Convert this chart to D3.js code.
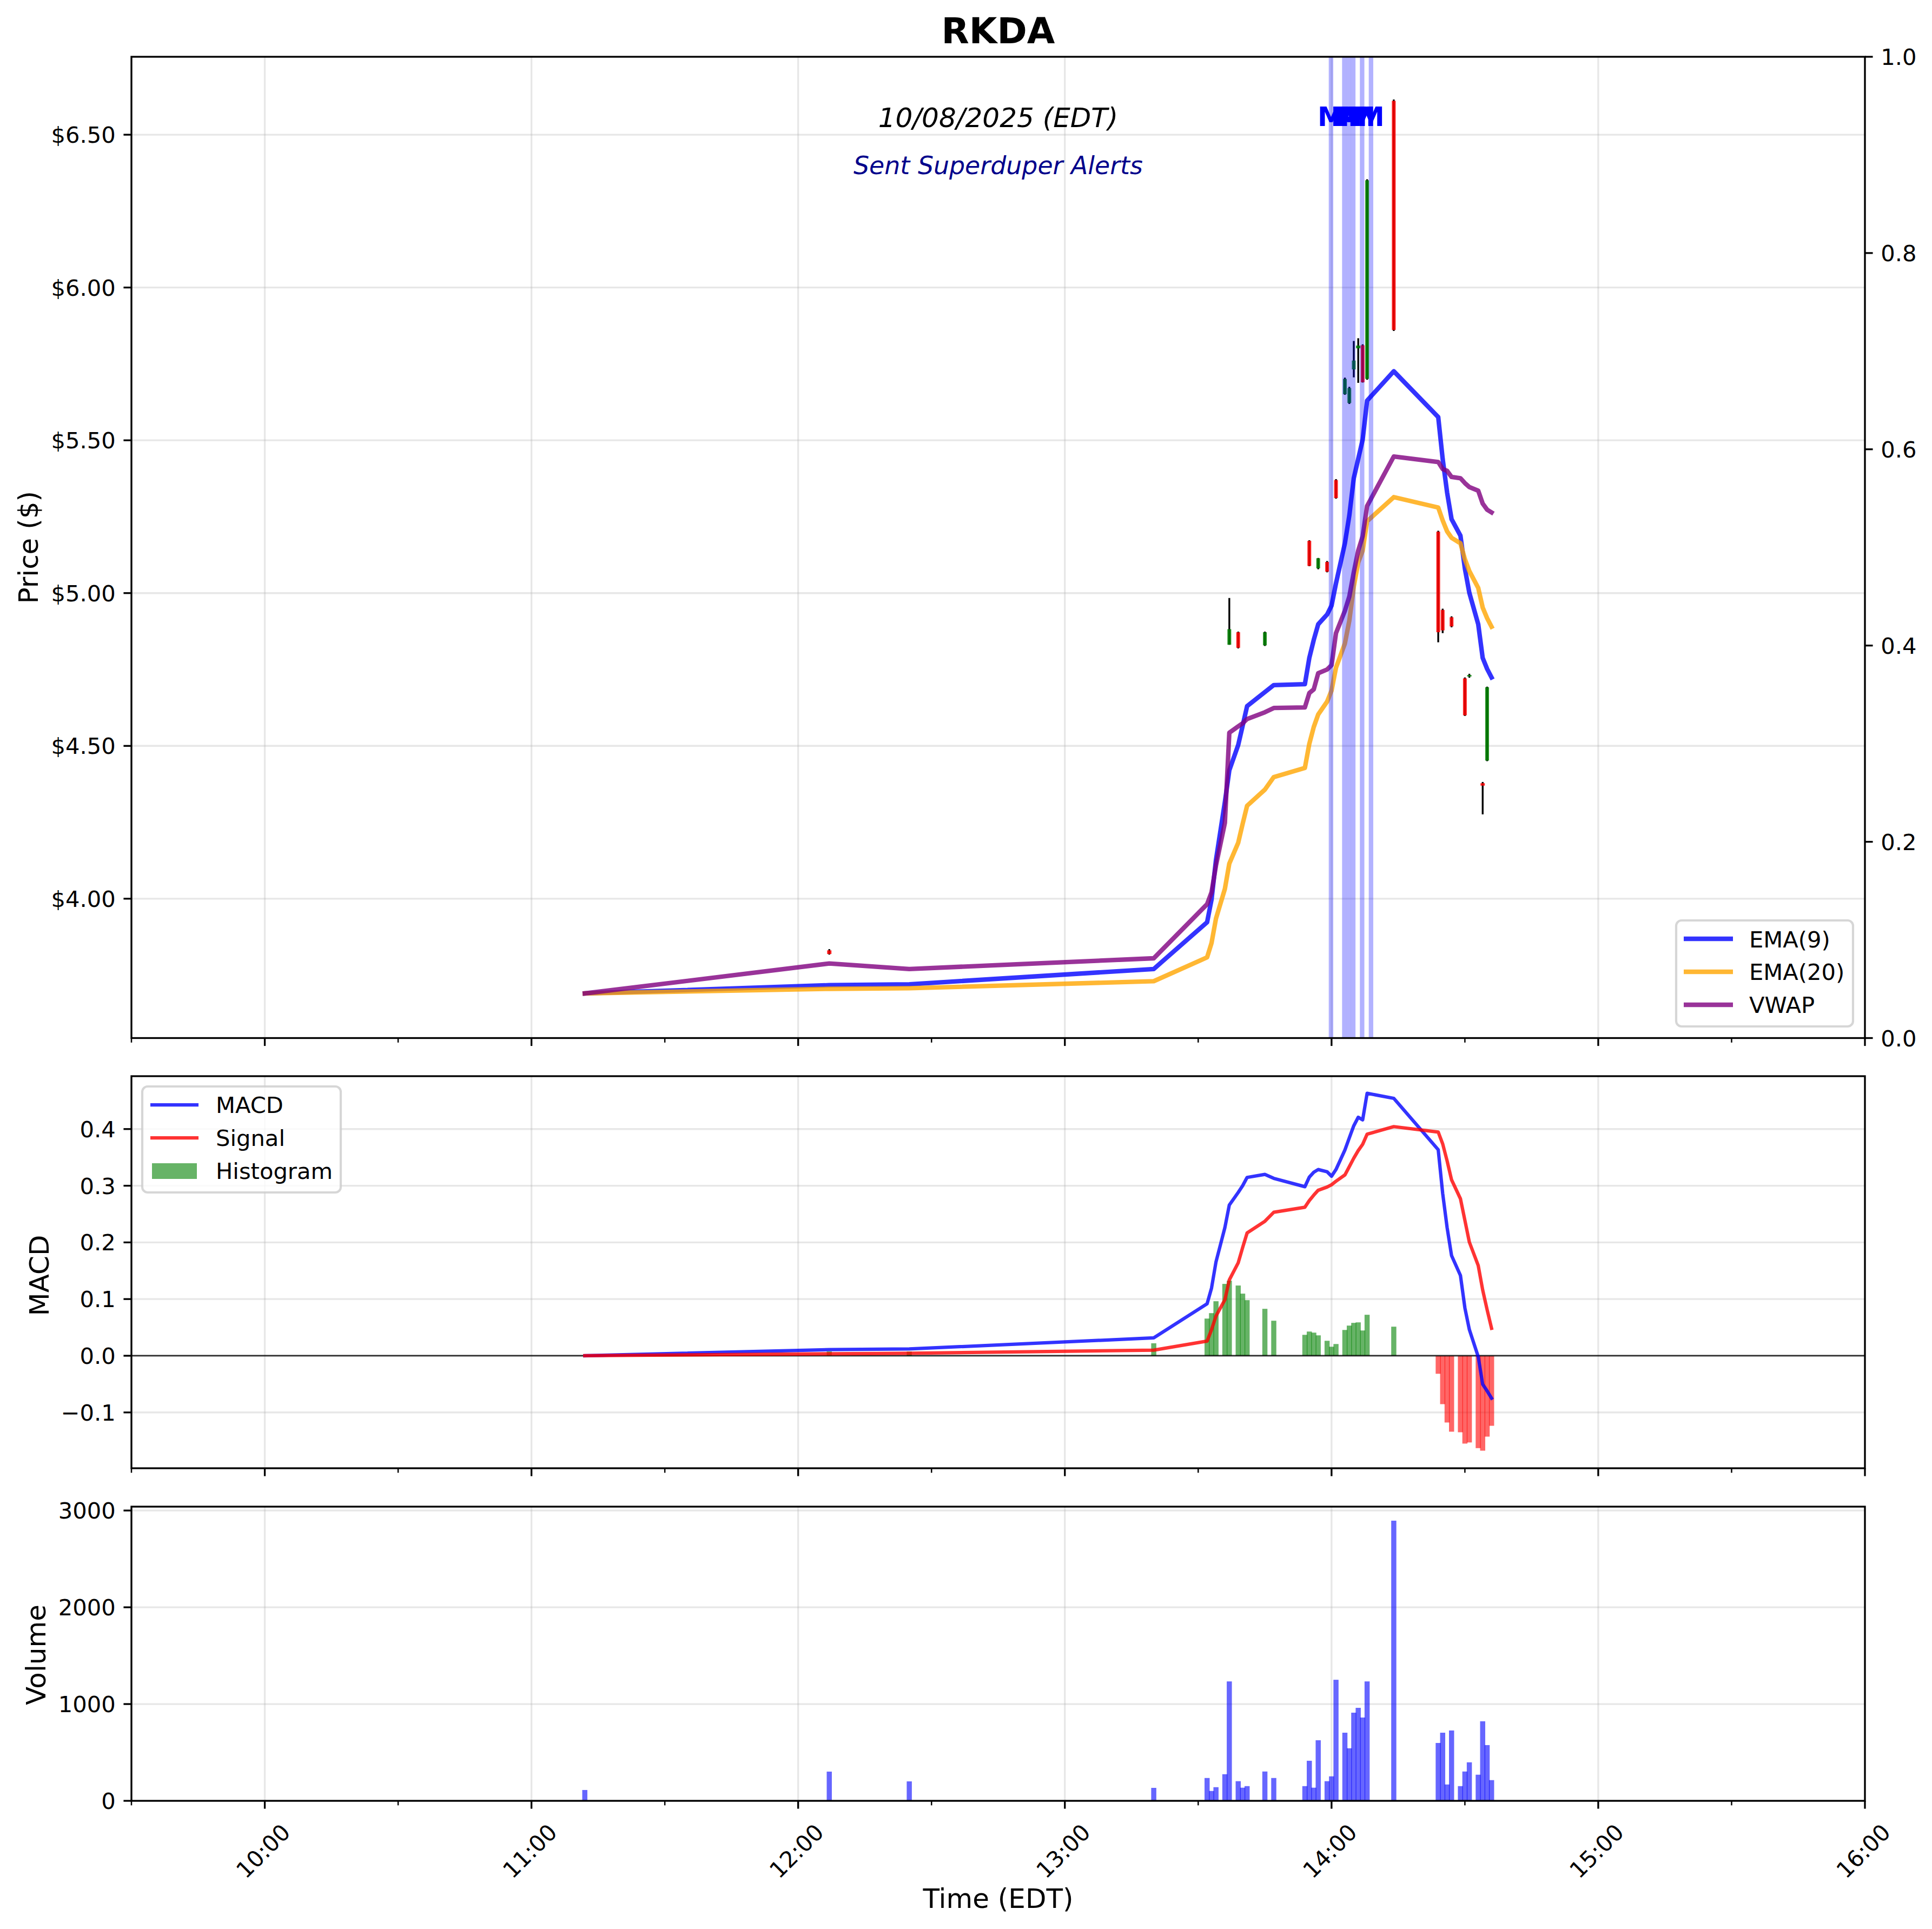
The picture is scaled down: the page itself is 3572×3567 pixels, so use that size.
<!DOCTYPE html>
<html>
<head>
<meta charset="utf-8">
<title>RKDA</title>
<script src="https://cdn.jsdelivr.net/npm/d3@7"></script>
<style>
  html, body { margin: 0; padding: 0; background: #fff; }
  text { font-family: "DejaVu Sans"; fill: #000; }
</style>
</head>
<body>
<div id="chart"></div>
<script>
// minutes with a trade
var times = ["11:12","12:07","12:25","13:20","13:32","13:33","13:34","13:36","13:37","13:39","13:40","13:41","13:45","13:47",
  "13:54","13:55","13:56","13:57","13:59","14:00","14:01","14:03","14:04","14:05","14:06","14:07","14:08","14:14",
  "14:24","14:25","14:26","14:27","14:29","14:30","14:31","14:33","14:34","14:35","14:36"];

var ema9 = [3.690,3.717,3.720,3.770,3.923,3.997,4.127,4.316,4.420,4.503,4.566,4.630,4.676,4.699,
  4.702,4.788,4.847,4.898,4.930,4.959,5.032,5.163,5.254,5.376,5.439,5.502,5.630,5.726,
  5.576,5.439,5.329,5.242,5.188,5.080,5.001,4.898,4.788,4.752,4.724];
var ema20 = [3.690,3.705,3.707,3.730,3.808,3.855,3.935,4.032,4.115,4.183,4.245,4.304,4.357,4.398,
  4.428,4.507,4.562,4.603,4.645,4.681,4.756,4.835,4.910,5.021,5.100,5.139,5.235,5.314,
  5.280,5.238,5.202,5.181,5.163,5.111,5.072,5.017,4.953,4.918,4.890];
var vwap = [3.690,3.788,3.770,3.805,3.982,4.021,4.109,4.248,4.543,4.564,4.574,4.588,4.610,4.624,
  4.626,4.673,4.685,4.738,4.750,4.764,4.869,4.942,4.989,5.068,5.139,5.186,5.285,5.447,
  5.429,5.406,5.400,5.380,5.376,5.360,5.347,5.335,5.293,5.273,5.264];

var macd = [0.000,0.0108,0.012,0.0315,0.0917,0.1194,0.1656,0.226,0.266,0.2882,0.300,0.3146,0.320,0.313,
  0.2983,0.3152,0.3238,0.3286,0.3247,0.3168,0.3286,0.3629,0.3845,0.4058,0.4208,0.4163,0.4631,0.4542,
  0.3635,0.2866,0.2261,0.1767,0.1417,0.0844,0.0462,-0.0016,-0.0503,-0.0621,-0.0748];
var signal = [0.000,0.0035,0.0045,0.0099,0.0258,0.046,0.070,0.0987,0.1338,0.164,0.191,0.2166,0.2373,0.2532,
  0.2621,0.2739,0.2834,0.292,0.2977,0.3018,0.3079,0.319,0.3337,0.3486,0.362,0.3731,0.3909,0.4043,
  0.3947,0.374,0.3438,0.3104,0.277,0.2388,0.2006,0.1592,0.1162,0.0812,0.0484];
var histogram = [0.000,0.0076,0.0076,0.022,0.0656,0.0752,0.0962,0.1268,0.1325,0.1239,0.1096,0.0981,0.0828,0.0618,
  0.0369,0.0427,0.0408,0.036,0.0264,0.0159,0.0207,0.0455,0.0532,0.058,0.0589,0.0446,0.0723,0.0513,
  -0.0318,-0.0854,-0.1178,-0.134,-0.135,-0.155,-0.153,-0.163,-0.1675,-0.1427,-0.1236];

var volume = [112,302,201,134,236,102,141,275,1234,203,136,152,303,236,
  152,414,136,626,203,253,1251,704,543,911,961,861,1234,2895,
  598,704,169,727,152,303,398,270,822,576,214];

// candles that show on the chart
var candleTimes = ["12:07","13:37","13:39","13:45","13:55","13:57","13:59","14:01","14:03","14:04","14:05","14:06","14:07","14:08",
  "14:14","14:24","14:25","14:27","14:30","14:31","14:34","14:35"];
var candleHigh = [3.835,4.984,4.874,4.874,5.173,5.115,5.105,5.373,5.705,5.675,5.825,5.834,5.814,6.354,
  6.615,5.204,4.949,4.924,4.724,4.736,4.382,4.694];
var candleLow = [3.817,4.831,4.819,4.827,5.088,5.078,5.068,5.309,5.649,5.619,5.706,5.688,5.689,5.698,
  5.858,4.839,4.869,4.888,4.598,4.723,4.276,4.450];
var candleOpen = [3.831,4.831,4.872,4.829,5.171,5.081,5.102,5.370,5.651,5.622,5.732,5.801,5.811,5.701,
  6.611,5.201,4.945,4.921,4.721,4.727,4.378,4.452];
var candleClose = [3.819,4.882,4.821,4.872,5.089,5.114,5.070,5.311,5.701,5.671,5.761,5.810,5.690,6.351,
  5.861,4.872,4.878,4.891,4.600,4.732,4.370,4.692];

var alertTimes = ["14:00","14:03","14:04","14:05","14:07","14:09"];

var hourTicks = ["10:00","11:00","12:00","13:00","14:00","15:00","16:00"];
var halfHourTicks = ["09:30","10:30","11:30","12:30","13:30","14:30","15:30"];
var priceTicks = [4, 4.5, 5, 5.5, 6, 6.5];
var rightTicks = [0, 0.2, 0.4, 0.6, 0.8, 1];
var macdTicks = [-0.1, 0, 0.1, 0.2, 0.3, 0.4];
var volumeTicks = [0, 1000, 2000, 3000];

var parseTime = d3.timeParse("%H:%M");
var PT = 300 / 72;   // the picture was 300 dpi

var svgWidth = 3572;
var svgHeight = 3567;
var left = 243, right = 3448;

var svg = d3.select("#chart")
  .append("svg")
  .attr("width", svgWidth)
  .attr("height", svgHeight)
  .style("display", "block");

svg.append("rect").attr("width", svgWidth).attr("height", svgHeight).attr("fill", "#fff");

// scales
var x = d3.scaleTime().domain([parseTime("09:30"), parseTime("16:00")]).range([left, right]);
var yPrice = d3.scaleLinear().domain([3.544, 6.755]).range([1919.5, 105]);
var yRight = d3.scaleLinear().domain([0, 1]).range([1919.5, 105]);
var yMacd = d3.scaleLinear().domain([-0.1985, 0.4933]).range([2715, 1990]);
var yVolume = d3.scaleLinear().domain([0, 3040]).range([3330, 2786]);

var minuteWidth = x(parseTime("09:31")) - x(parseTime("09:30"));
var barWidth = minuteWidth * 1.152;

// grid lines of one panel
function panelAxes(y, yTicks) {
  var top = y.range()[1], bottom = y.range()[0];

  var gridX = svg.append("g")
    .attr("transform", `translate(0, ${top})`)
    .call(d3.axisBottom(x).tickValues(hourTicks.map(parseTime)).tickSize(bottom - top).tickFormat("").offset(0));
  gridX.select(".domain").remove();
  gridX.selectAll("line").attr("stroke", "#b0b0b0").attr("stroke-opacity", 0.3).attr("stroke-width", 0.8 * PT);

  var gridY = svg.append("g")
    .attr("transform", `translate(${left}, 0)`)
    .call(d3.axisRight(y).tickValues(yTicks).tickSize(right - left).tickFormat("").offset(0));
  gridY.select(".domain").remove();
  gridY.selectAll("line").attr("stroke", "#b0b0b0").attr("stroke-opacity", 0.3).attr("stroke-width", 0.8 * PT);
}

// frame, ticks and tick labels of one panel
function panelFrame(y, yTicks, yFormat, showTimeLabels) {
  var top = y.range()[1], bottom = y.range()[0];

  svg.append("rect")
    .attr("x", left).attr("y", top)
    .attr("width", right - left).attr("height", bottom - top)
    .attr("fill", "none").attr("stroke", "#000").attr("stroke-width", 0.8 * PT);

  var minor = svg.append("g")
    .attr("transform", `translate(0, ${bottom})`)
    .call(d3.axisBottom(x).tickValues(halfHourTicks.map(parseTime)).tickSize(2 * PT).tickFormat("").offset(0));
  minor.select(".domain").remove();
  minor.selectAll("line").attr("stroke", "#000").attr("stroke-width", 0.6 * PT);

  var major = svg.append("g")
    .attr("transform", `translate(0, ${bottom})`)
    .call(d3.axisBottom(x).tickValues(hourTicks.map(parseTime)).tickSize(3.5 * PT)
      .tickFormat(showTimeLabels ? d3.timeFormat("%H:%M") : "").offset(0));
  major.select(".domain").remove();
  major.selectAll("line").attr("stroke", "#000").attr("stroke-width", 0.8 * PT);
  major.selectAll("text")
    .attr("x", 0).attr("y", 0).attr("dy", "0.35em")
    .attr("transform", "translate(-3, 93) rotate(-45)")
    .attr("text-anchor", "middle")
    .attr("font-family", "DejaVu Sans")
    .attr("font-size", 10 * PT);

  var yAxis = svg.append("g")
    .attr("transform", `translate(${left}, 0)`)
    .call(d3.axisLeft(y).tickValues(yTicks).tickSize(3.5 * PT).tickPadding(3.5 * PT).tickFormat(yFormat).offset(0));
  yAxis.select(".domain").remove();
  yAxis.selectAll("line").attr("stroke", "#000").attr("stroke-width", 0.8 * PT);
  yAxis.selectAll("text").attr("font-family", "DejaVu Sans").attr("font-size", 10 * PT).attr("dy", "0.36em");
}

function drawLine(values, y, color, width) {
  var line = d3.line()
    .x(function(d, i) { return x(parseTime(times[i])); })
    .y(function(d) { return y(d); });
  svg.append("path")
    .attr("d", line(values))
    .attr("fill", "none")
    .attr("stroke", color)
    .attr("stroke-opacity", 0.8)
    .attr("stroke-width", width * PT)
    .attr("stroke-linecap", "square")
    .attr("stroke-linejoin", "round");
}

function yLabel(text, baseX, y, shift) {
  var mid = (y.range()[0] + y.range()[1]) / 2 + shift;
  svg.append("text")
    .attr("transform", `translate(${baseX}, ${mid}) rotate(-90)`)
    .attr("text-anchor", "middle")
    .attr("font-size", 12 * PT)
    .text(text);
}

function legendBox(bx, by, bw, bh) {
  svg.append("rect")
    .attr("x", bx).attr("y", by).attr("width", bw).attr("height", bh)
    .attr("rx", 10).attr("ry", 10)
    .attr("fill", "#fff").attr("fill-opacity", 0.8)
    .attr("stroke", "#ccc").attr("stroke-opacity", 0.8).attr("stroke-width", PT);
}

function legendLine(x1, x2, ly, color, width) {
  svg.append("line")
    .attr("x1", x1).attr("x2", x2).attr("y1", ly).attr("y2", ly)
    .attr("stroke", color).attr("stroke-opacity", 0.8).attr("stroke-width", width * PT);
}

function legendText(lx, ly, text) {
  svg.append("text").attr("x", lx).attr("y", ly).attr("font-size", 10 * PT).text(text);
}

// ---- price panel
panelAxes(yPrice, priceTicks);

// wicks, then bodies on top
svg.append("g").selectAll("line")
  .data(candleTimes)
  .enter()
  .append("line")
  .attr("x1", function(d) { return x(parseTime(d)); })
  .attr("x2", function(d) { return x(parseTime(d)); })
  .attr("y1", function(d, i) { return yPrice(candleHigh[i]); })
  .attr("y2", function(d, i) { return yPrice(candleLow[i]); })
  .attr("stroke", "#000")
  .attr("stroke-width", 0.8 * PT);

svg.append("g").selectAll("rect")
  .data(candleTimes)
  .enter()
  .append("rect")
  .attr("x", function(d, i) {
    var h = Math.abs(yPrice(candleOpen[i]) - yPrice(candleClose[i]));
    return x(parseTime(d)) - (h < 15 ? 4 : 3.5);
  })
  .attr("width", function(d, i) {
    var h = Math.abs(yPrice(candleOpen[i]) - yPrice(candleClose[i]));
    return h < 15 ? 8 : 7;
  })
  .attr("y", function(d, i) { return yPrice(Math.max(candleOpen[i], candleClose[i])); })
  .attr("height", function(d, i) { return Math.abs(yPrice(candleOpen[i]) - yPrice(candleClose[i])); })
  .attr("fill", function(d, i) { return candleClose[i] >= candleOpen[i] ? "green" : "red"; })
  .attr("fill-opacity", 0.85);

drawLine(ema9, yPrice, "blue", 2);
drawLine(ema20, yPrice, "orange", 2);
drawLine(vwap, yPrice, "purple", 2);

// alert markers
svg.append("g").selectAll("line")
  .data(alertTimes)
  .enter()
  .append("line")
  .attr("x1", function(d) { return x(parseTime(d)) - 1; })
  .attr("x2", function(d) { return x(parseTime(d)) - 1; })
  .attr("y1", yPrice.range()[1])
  .attr("y2", yPrice.range()[0])
  .attr("stroke", "blue")
  .attr("stroke-opacity", 0.3)
  .attr("stroke-width", 2 * PT);

svg.append("g").selectAll("text")
  .data(alertTimes)
  .enter()
  .append("text")
  .attr("x", function(d) { return x(parseTime(d)) - 1; })
  .attr("y", 233)
  .attr("text-anchor", "middle")
  .attr("font-size", 12 * PT)
  .attr("font-weight", "bold")
  .style("fill", "blue")
  .text("M");

panelFrame(yPrice, priceTicks, function(d) { return "$" + d.toFixed(2); }, false);

// the empty right hand axis
var rightAxis = svg.append("g")
  .attr("transform", `translate(${right}, 0)`)
  .call(d3.axisRight(yRight).tickValues(rightTicks).tickSize(3.5 * PT).tickPadding(3.5 * PT).tickFormat(d3.format(".1f")).offset(0));
rightAxis.select(".domain").remove();
rightAxis.selectAll("line").attr("stroke", "#000").attr("stroke-width", 0.8 * PT);
rightAxis.selectAll("text").attr("font-family", "DejaVu Sans").attr("font-size", 10 * PT).attr("dy", "0.36em");

legendBox(3099, 1702, 327, 196);
legendLine(3113, 3204, 1736, "blue", 2);
legendLine(3113, 3204, 1797, "orange", 2);
legendLine(3113, 3204, 1858, "purple", 2);
legendText(3234, 1752, "EMA(9)");
legendText(3234, 1812, "EMA(20)");
legendText(3234, 1873, "VWAP");

yLabel("Price ($)", 70, yPrice, 0);

svg.append("text")
  .attr("x", (left + right) / 2).attr("y", 235)
  .attr("text-anchor", "middle")
  .attr("font-size", 12 * PT)
  .attr("font-style", "italic")
  .text("10/08/2025 (EDT)");

svg.append("text")
  .attr("x", (left + right) / 2).attr("y", 322)
  .attr("text-anchor", "middle")
  .attr("font-size", 11 * PT)
  .attr("font-style", "italic")
  .style("fill", "darkblue")
  .text("Sent Superduper Alerts");

svg.append("text")
  .attr("x", (left + right) / 2).attr("y", 80)
  .attr("text-anchor", "middle")
  .attr("font-size", 16 * PT)
  .attr("font-weight", "bold")
  .text("RKDA");

// ---- MACD panel
panelAxes(yMacd, macdTicks);

svg.append("g").selectAll("rect")
  .data(histogram)
  .enter()
  .append("rect")
  .attr("x", function(d, i) { return x(parseTime(times[i])) - barWidth / 2; })
  .attr("width", barWidth)
  .attr("y", function(d) { return d >= 0 ? yMacd(d) : yMacd(0); })
  .attr("height", function(d) { return Math.abs(yMacd(d) - yMacd(0)); })
  .attr("fill", function(d) { return d >= 0 ? "green" : "red"; })
  .attr("fill-opacity", 0.6);

svg.append("line")
  .attr("x1", left).attr("x2", right)
  .attr("y1", yMacd(0)).attr("y2", yMacd(0))
  .attr("stroke", "#000").attr("stroke-opacity", 0.8).attr("stroke-width", 0.65 * PT);

drawLine(macd, yMacd, "blue", 1.5);
drawLine(signal, yMacd, "red", 1.5);

panelFrame(yMacd, macdTicks, d3.format(".1f"), false);

legendBox(263, 2009, 367, 196);
legendLine(278, 367, 2043, "blue", 1.5);
legendLine(278, 367, 2104, "red", 1.5);
svg.append("rect")
  .attr("x", 281).attr("y", 2151).attr("width", 83).attr("height", 29)
  .attr("fill", "green").attr("fill-opacity", 0.6);
legendText(399, 2058, "MACD");
legendText(399, 2119, "Signal");
legendText(399, 2180, "Histogram");

yLabel("MACD", 90, yMacd, 6);

// ---- volume panel
panelAxes(yVolume, volumeTicks);

svg.append("g").selectAll("rect")
  .data(volume)
  .enter()
  .append("rect")
  .attr("x", function(d, i) { return x(parseTime(times[i])) - barWidth / 2; })
  .attr("width", barWidth)
  .attr("y", function(d) { return yVolume(d); })
  .attr("height", function(d) { return yVolume(0) - yVolume(d); })
  .attr("fill", "blue")
  .attr("fill-opacity", 0.6);

panelFrame(yVolume, volumeTicks, d3.format("d"), true);

yLabel("Volume", 84, yVolume, 2);

svg.append("text")
  .attr("x", (left + right) / 2).attr("y", 3528)
  .attr("text-anchor", "middle")
  .attr("font-size", 12 * PT)
  .text("Time (EDT)");
</script>
</body>
</html>
